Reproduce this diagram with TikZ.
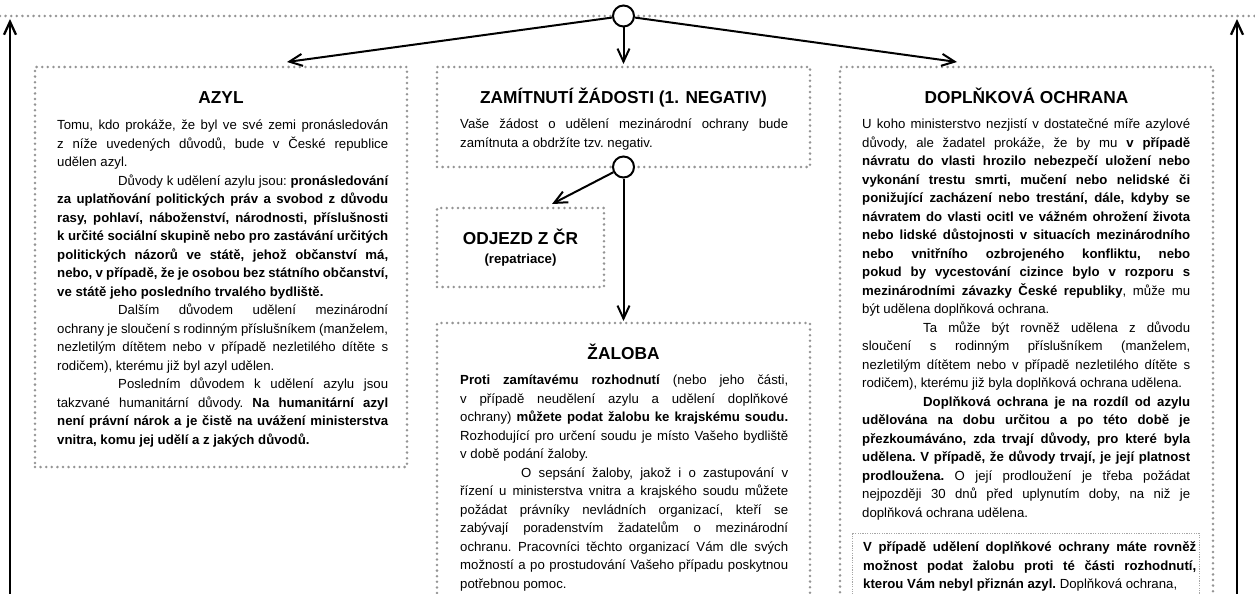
\documentclass[tikz,border=0pt]{standalone}
\usepackage{fontspec}
\setmainfont{Liberation Sans}
\usetikzlibrary{arrows.meta,positioning}

\tikzset{
  dotbox/.style={rectangle, draw=black!42, line width=2.8pt, dash pattern=on 0pt off 5.6pt,
    line cap=round, inner sep=0pt, outer sep=0pt, anchor=north west},
  thinbox/.style={rectangle, draw=black!35, line width=0.7pt, dash pattern=on 1.2pt off 1.2pt,
    inner sep=0pt, outer sep=0pt, anchor=north west},
  dotline/.style={draw=black!42, line width=2.8pt, dash pattern=on 0pt off 5.6pt, line cap=round},
  hub/.style={circle, draw, fill=white, line width=2pt, minimum size=21pt, inner sep=0pt},
  arr/.style={-{Straight Barb[length=13pt,width=12pt]}, line width=2pt},
  heading/.style={anchor=base, inner sep=0pt, font={\fontsize{17.3}{20}\selectfont\bfseries}},
  subhead/.style={anchor=base, inner sep=0pt, font={\fontsize{13.2}{16}\selectfont\bfseries}},
  body/.style={anchor=north west, inner sep=0pt, text width=#1, align=justify,
    font={\fontsize{13.2}{18.5}\selectfont\frenchspacing\parindent=0pt\parskip=0pt\hyphenpenalty=10000\tolerance=9999}},
  body/.default=328pt
}
\newcommand{\indentgap}{\hspace*{61pt}}

\begin{document}
\begin{tikzpicture}[x=1pt,y=-1pt]
\clip (0,0) rectangle (1255,594);

% boxes
\node[dotbox, minimum width=372pt, minimum height=400pt] (azyl) at (35,67) {};
\node[dotbox, minimum width=373pt, minimum height=100pt] (zamit) at (437,67) {};
\node[dotbox, minimum width=167pt, minimum height=79pt] (odjezd) at (437,208) {};
\node[dotbox, minimum width=373pt, minimum height=300pt] (zaloba) at (437,323) {};
\node[dotbox, minimum width=373pt, minimum height=560pt] (doplnek) at (840,67) {};
\node[thinbox, minimum width=347pt, minimum height=100pt] (doplzal) at (852,533) {};

% top line and the two returns
\coordinate (topL) at (0,16);
\coordinate (topR) at (1255,16);
\draw[dotline] (topL) -- (topR);
\coordinate (retLa) at (10,610);
\coordinate (retLb) at (10,19);
\coordinate (retRa) at (1237,610);
\coordinate (retRb) at (1237,19);
\draw[arr, line width=2.3pt] (retLa) -- (retLb);
\draw[arr, line width=2.3pt] (retRa) -- (retRb);

% branching points
\node[hub] (hubA) at (zamit.north |- topL) {};
\node[hub] (hubB) at (zamit.south) {};

\coordinate (azylIn) at (287,62);
\coordinate (doplIn) at (957,62);
\coordinate (odjezdIn) at (552,204);
\draw[arr] (hubA) -- (azylIn);
\draw[arr] (hubA) -- (doplIn);
\draw[arr, shorten >=3pt] (hubA) -- (zamit.north);
\draw[arr] (hubB) -- (odjezdIn);
\draw[arr, shorten >=2pt] (hubB) -- (zaloba.north);

% AZYL
\node[heading] (azylHead) at (221,103) {AZYL};
\node[body=331pt] (azylText) at (57,116.5) {\strut Tomu, kdo prokáže, že byl ve své zemi pronásledován \linebreak
z níže uvedených důvodů, bude v České republice \linebreak
udělen azyl.\par
\indentgap Důvody k udělení azylu jsou: \textbf{pronásledování \linebreak
za uplatňování politických práv a svobod z důvodu \linebreak
rasy, pohlaví, náboženství, národnosti, příslušnosti \linebreak
k určité sociální skupině nebo pro zastávání určitých \linebreak
politických názorů ve státě, jehož občanství má, \linebreak
nebo, v případě, že je osobou bez státního občanství, \linebreak
ve státě jeho posledního trvalého bydliště.}\par
\indentgap Dalším důvodem udělení mezinárodní \linebreak
ochrany je sloučení s rodinným příslušníkem (manželem, \linebreak
nezletilým dítětem nebo v případě nezletilého dítěte s \linebreak
rodičem), kterému již byl azyl udělen.\par
\indentgap Posledním důvodem k udělení azylu jsou \linebreak
takzvané humanitární důvody. \textbf{Na humanitární azyl \linebreak
není právní nárok a je čistě na uvážení ministerstva \linebreak
vnitra, komu jej udělí a z jakých důvodů.}};

% ZAMITNUTI
\node[heading] (zamitHead) at (623.5,103) {ZAMÍTNUTÍ ŽÁDOSTI (1. NEGATIV)};
\node[body] (zamitText) at (460,115.5) {\strut Vaše žádost o udělení mezinárodní ochrany bude \linebreak
zamítnuta a obdržíte tzv. negativ.};

% ODJEZD
\node[heading] (odjezdHead) at (520.5,244) {ODJEZD Z ČR};
\node[subhead] (odjezdSub) at (520.5,263) {(repatriace)};

% ZALOBA
\node[heading] (zalobaHead) at (623.5,359) {ŽALOBA};
\node[body] (zalobaText) at (460,371.5) {\strut\textbf{Proti zamítavému rozhodnutí} (nebo jeho části, \linebreak
v případě neudělení azylu a udělení doplňkové \linebreak
ochrany) \textbf{můžete podat žalobu ke krajskému soudu.} \linebreak
Rozhodující pro určení soudu je místo Vašeho bydliště \linebreak
v době podání žaloby.\par
\indentgap O sepsání žaloby, jakož i o zastupování v \linebreak
řízení u ministerstva vnitra a krajského soudu můžete \linebreak
požádat právníky nevládních organizací, kteří se \linebreak
zabývají poradenstvím žadatelům o mezinárodní \linebreak
ochranu. Pracovníci těchto organizací Vám dle svých \linebreak
možností a po prostudování Vašeho případu poskytnou \linebreak
potřebnou pomoc.};

% DOPLNKOVA OCHRANA
\node[heading] (doplHead) at (1026.5,103) {DOPLŇKOVÁ OCHRANA};
\node[body] (doplText) at (862,115.5) {\strut U koho ministerstvo nezjistí v dostatečné míře azylové \linebreak
důvody, ale žadatel prokáže, že by mu \textbf{v případě \linebreak
návratu do vlasti hrozilo nebezpečí uložení nebo \linebreak
vykonání trestu smrti, mučení nebo nelidské či \linebreak
ponižující zacházení nebo trestání, dále, kdyby se \linebreak
návratem do vlasti ocitl ve vážném ohrožení života \linebreak
nebo lidské důstojnosti v situacích mezinárodního \linebreak
nebo vnitřního ozbrojeného konfliktu, nebo \linebreak
pokud by vycestování cizince bylo v rozporu s \linebreak
mezinárodními závazky České republiky}, může mu \linebreak
být udělena doplňková ochrana.\par
\indentgap Ta může být rovněž udělena z důvodu \linebreak
sloučení s rodinným příslušníkem (manželem, \linebreak
nezletilým dítětem nebo v případě nezletilého dítěte s \linebreak
rodičem), kterému již byla doplňková ochrana udělena.\par
\indentgap \textbf{Doplňková ochrana je na rozdíl od azylu \linebreak
udělována na dobu určitou a po této době je \linebreak
přezkoumáváno, zda trvají důvody, pro které byla \linebreak
udělena. V případě, že důvody trvají, je její platnost \linebreak
prodloužena.} O její prodloužení je třeba požádat \linebreak
nejpozději 30 dnů před uplynutím doby, na niž je \linebreak
doplňková ochrana udělena.};
\node[body=333pt] (doplzalText) at (863,538.5) {\strut\parfillskip=0pt\textbf{V případě udělení doplňkové ochrany máte rovněž \linebreak
možnost podat žalobu proti té části rozhodnutí, \linebreak
kterou Vám nebyl přiznán azyl.} Doplňková ochrana,};
\end{tikzpicture}
\end{document}
